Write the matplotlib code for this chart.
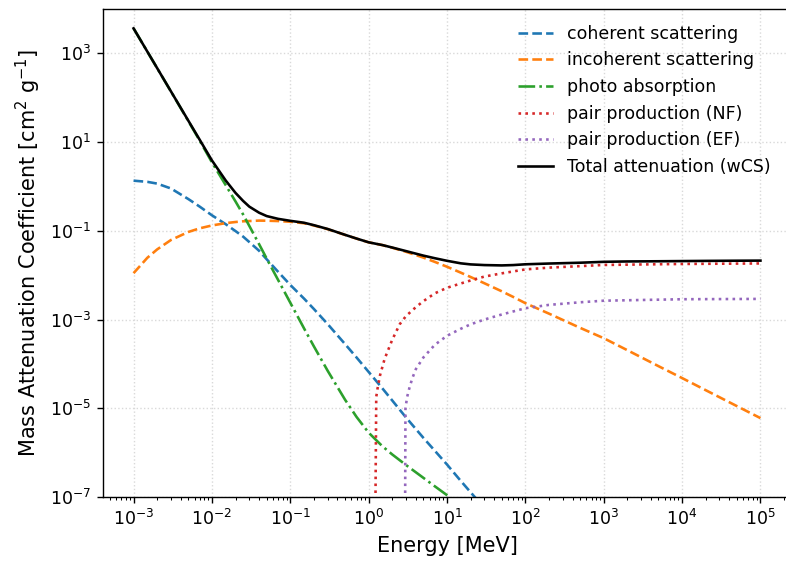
import numpy as np
import matplotlib
matplotlib.use("Agg")
import matplotlib.pyplot as plt
from matplotlib.ticker import LogLocator, NullLocator

# energy grid [MeV] shared by the scattering / photo / total curves
energy = [1e-3, 1.5e-3, 2e-3, 3e-3, 5e-3, 7e-3,
          1e-2, 1.5e-2, 2e-2, 2.5e-2, 3e-2, 4e-2, 5e-2, 7e-2,
          0.1, 0.15, 0.2, 0.3, 0.5, 0.7,
          1, 1.5, 2, 3, 5, 7,
          10, 15, 20, 30, 50, 70,
          100, 200, 500, 1e3, 2e3, 5e3, 1e4, 2e4, 5e4, 1e5]

coherent = [1.35, 1.27, 1.16, 0.90, 0.52, 0.35,
            0.224, 0.141, 0.0986, 0.0741, 0.0558, 0.0355, 0.0228, 0.0119,
            6.03e-3, 2.96e-3, 1.73e-3, 7.9e-4, 2.8e-4, 1.4e-4,
            6.6e-5, 2.8e-5, 1.5e-5, 6.2e-6, 2.15e-6, 1.1e-6,
            5.4e-7, 2.3e-7, 1.28e-7, 5.6e-8, 2e-8, 1e-8,
            5e-9, np.nan, np.nan, np.nan, np.nan, np.nan, np.nan, np.nan, np.nan, np.nan]

incoherent = [0.0111, 0.0247, 0.0381, 0.0621, 0.0942, 0.114,
              0.132, 0.149, 0.158, 0.164, 0.166, 0.170, 0.169, 0.166,
              0.160, 0.148, 0.132, 0.109, 0.0809, 0.0668,
              0.0550, 0.0476, 0.0416, 0.0337, 0.0249, 0.0199,
              0.0155, 0.0114, 0.0091, 0.00658, 0.00433, 0.00323,
              0.00234, 0.00136, 6.5e-4, 3.8e-4, 2.04e-4, 8.9e-5, 4.8e-5, 2.56e-5, 1.12e-5, 6.0e-6]

photo = [3660, 1093, 464, 138, 29.8, 10.7,
         3.50, 1.07, 0.459, 0.234, 0.129, 0.050, 0.0236, 0.00778,
         2.4e-3, 6.3e-4, 2.49e-4, 7.0e-5, 1.56e-5, 6.4e-6,
         2.82e-6, 1.39e-6, 9.1e-7, 5.25e-7, 2.7e-7, 1.74e-7,
         1.10e-7, 6.5e-8, 4.5e-8, 2.7e-8, 1.4e-8, 9.3e-9,
         6.0e-9, np.nan, np.nan, np.nan, np.nan, np.nan, np.nan, np.nan, np.nan, np.nan]

total = [3660, 1094, 465, 139, 30.4, 11.2,
         3.86, 1.36, 0.716, 0.472, 0.351, 0.256, 0.215, 0.186,
         0.168, 0.152, 0.134, 0.110, 0.0812, 0.0670,
         0.0551, 0.0477, 0.0420, 0.0349, 0.0276, 0.0241,
         0.0211, 0.0185, 0.0175, 0.0169, 0.0166, 0.0169,
         0.0176, 0.0183, 0.0191, 0.0200, 0.0204, 0.0206, 0.0208, 0.0210, 0.0212, 0.0213]

# pair production, nuclear field
energy_nf = [1.2, 1.25, 1.3, 1.4, 1.6, 2, 2.5, 3, 4, 5, 7, 10, 15, 20, 30, 50,
             100, 200, 500, 1e3, 1e4, 1e5]
pair_nf = [1e-9, 1.8e-5, 2.8e-5, 5.6e-5, 1.3e-4, 3.5e-4, 7.9e-4, 1.2e-3, 1.9e-3, 2.6e-3,
           3.9e-3, 5.2e-3, 6.5e-3, 7.6e-3, 9.3e-3, 0.011,
           0.0135, 0.0148, 0.016, 0.017, 0.0179, 0.0184]

# pair production, electron field
energy_ef = [2.9, 2.95, 3.1, 3.3, 3.6, 4, 5, 7, 10, 15, 20, 30, 50,
             100, 200, 500, 1e3, 1e4, 1e5]
pair_ef = [1e-9, 1.0e-5, 1.8e-5, 2.8e-5, 4.7e-5, 7.6e-5, 1.4e-4, 2.7e-4, 4.3e-4, 6.2e-4,
           7.8e-4, 1.0e-3, 1.3e-3, 1.8e-3, 2.14e-3, 2.45e-3, 2.66e-3, 2.87e-3, 2.92e-3]

fig = plt.figure(figsize=(786 / 125, 561 / 125), dpi=125)
ax = fig.add_axes([103 / 786, 64 / 561, 688 / 786, 488 / 561])

ax.plot(energy, coherent, "--", color="C0", label="coherent scattering")
ax.plot(energy, incoherent, "--", color="C1", label="incoherent scattering")
ax.plot(energy, photo, "-.", color="C2", label="photo absorption")
ax.plot(energy_nf, pair_nf, ":", color="C3", label="pair production (NF)")
ax.plot(energy_ef, pair_ef, ":", color="C4", label="pair production (EF)")
ax.plot(energy, total, "-", color="black", label="Total attenuation (wCS)")

ax.set_xscale("log")
ax.set_yscale("log")
ax.set_xlim(10 ** -3.39, 10 ** 5.39)
ax.set_ylim(1e-7, 1e4)
ax.set_xticks([10.0 ** k for k in range(-3, 6)])
ax.xaxis.set_minor_locator(LogLocator(base=10, subs=np.arange(2, 10), numticks=50))
ax.set_yticks([10.0 ** k for k in range(-7, 4, 2)])
ax.yaxis.set_minor_locator(NullLocator())

ax.grid(True, which="major", linestyle=":", color="0.85", linewidth=0.8)
ax.set_xlabel("Energy [MeV]", fontsize=12)
ax.set_ylabel("Mass Attenuation Coefficient [cm$^2$ g$^{-1}$]", fontsize=12)
ax.legend(loc="upper right", bbox_to_anchor=(0.993, 1.0), frameon=False, fontsize=10)

fig.savefig("out.png", dpi=125)
